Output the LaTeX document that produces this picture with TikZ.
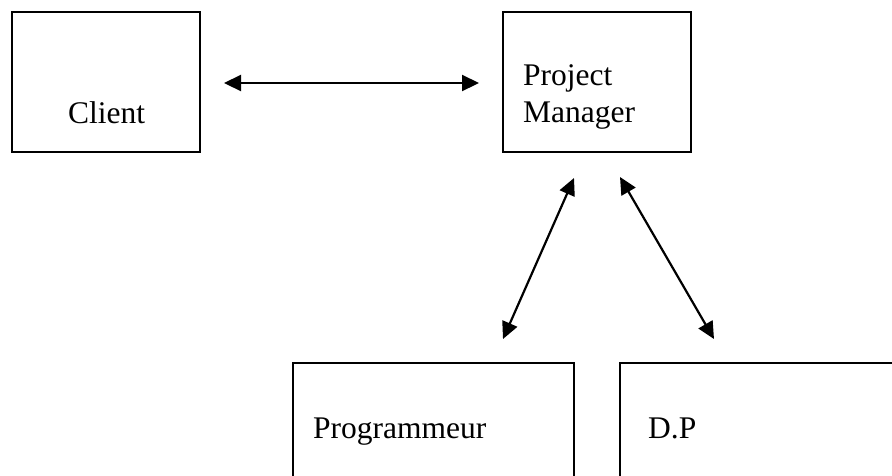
\documentclass[tikz,border=0pt]{standalone}
\usepackage{fontspec}
\setmainfont{Liberation Serif}
\usetikzlibrary{arrows.meta}
\begin{document}
\begin{tikzpicture}[x=1pt,y=-1pt,
  box/.style={draw,line width=1.6pt,inner sep=0pt},
  lbl/.style={anchor=base west,inner sep=0pt,font=\fontsize{31.5}{37}\selectfont},
  link/.style={line width=2.2pt,{Triangle[length=17pt,width=16pt]}-{Triangle[length=17pt,width=16pt]}}]
\useasboundingbox (0,0) rectangle (892,475);
\clip (0,0) rectangle (892,475);
% boxes
\node[box,minimum width=188pt,minimum height=140pt] (client) at (106,82) {};
\node[box,minimum width=188pt,minimum height=140pt] (pm) at (597,82) {};
\node[box,minimum width=281pt,minimum height=160pt] (prog) at (433.5,443) {};
\node[box,minimum width=300pt,minimum height=160pt] (dp) at (770,443) {};
% labels
\node[lbl] (tclient) at (68,123) {Client};
\node[lbl] (tpm) at (523,85) {Project};
\node[lbl] (tpm2) at (523,122) {Manager};
\node[lbl] (tprog) at (313,438) {Programmeur};
\node[lbl] (tdp) at (648,438) {D.P};
% connector ends
\coordinate (c1) at (224,83);
\coordinate (c2) at (479,83);
\coordinate (p1) at (574,178);
\coordinate (p2) at (503,339);
\coordinate (d1) at (620,177);
\coordinate (d2) at (714,339);
\draw[link] (c1) -- (c2);
\draw[link] (p1) -- (p2);
\draw[link] (d1) -- (d2);
\end{tikzpicture}
\end{document}
